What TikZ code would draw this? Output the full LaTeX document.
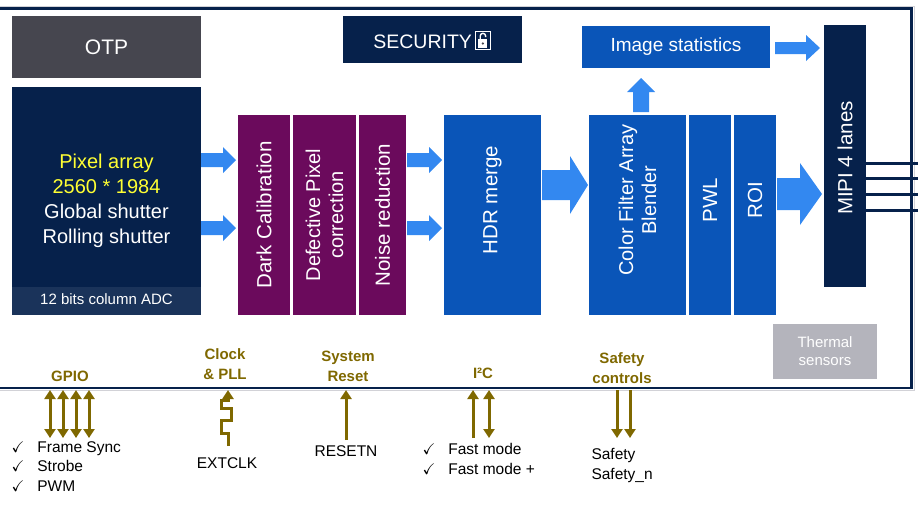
\documentclass[tikz,border=0pt]{standalone}
\usepackage{amssymb}
\usepackage{fontspec}
\setmainfont{Liberation Sans}
\usetikzlibrary{arrows.meta}
\definecolor{navy}{HTML}{06214B}
\definecolor{otpgray}{HTML}{46464F}
\definecolor{purp}{HTML}{6B0A5C}
\definecolor{blk}{HTML}{0A55B8}
\definecolor{abl}{HTML}{3388F0}
\definecolor{gold}{HTML}{7F6800}
\definecolor{thgray}{HTML}{B4B4BC}
\definecolor{yel}{HTML}{FFFF33}
\tikzset{
 x=1pt,y=-1pt,
 vtext/.style={rotate=90,text=white,font=\fontsize{20.5}{23}\selectfont,align=center},
 glabel/.style={text=gold,font=\bfseries\fontsize{15}{18}\selectfont,align=center},
 blabel/.style={font=\fontsize{15.5}{19.5}\selectfont,align=left,anchor=north west},
 sig/.style={gold,line width=3pt},
 tipb/.style={-{Triangle[length=9pt,width=11pt]}},
 tipbb/.style={{Triangle[length=9pt,width=11pt]}-{Triangle[length=9pt,width=11pt]}},
 pics/barrow/.style args={#1/#2/#3/#4}{code={\fill[abl] (0,-#2) -- (#1-#4,-#2) -- (#1-#4,-#3) -- (#1,0) -- (#1-#4,#3) -- (#1-#4,#2) -- (0,#2) -- cycle;}}
}
\newcommand{\ck}{$\checkmark$}
\begin{document}
\begin{tikzpicture}
\useasboundingbox (0,0) rectangle (918,504);
% frame
\draw[thgray!60,line width=1pt] (-5,6) -| (914.5,390.5) -- (-5,390.5);
\draw[navy,line width=2.5pt] (-5,8.5) -| (911.5,388) -- (-5,388);
% MIPI lanes
\foreach \yy in {163,178,194,210} \draw[navy,line width=3pt] (866,\yy) -- (918,\yy);
% blocks
\fill[otpgray] (12,16) rectangle (201,78);
\node[text=white,font=\fontsize{21}{24}\selectfont] (otp) at (106.5,47) {OTP};
\fill[navy] (12,87) rectangle (201,315);
\fill[white!8!navy] (12,287) rectangle (201,315);
\node[align=center,font=\fontsize{20}{25}\selectfont,text=white] (pix) at (106.5,201) {\textcolor{yel}{Pixel array}\\\textcolor{yel}{2560 * 1984}\\Global shutter\\Rolling shutter};
\node[text=white,font=\fontsize{15}{17}\selectfont] (adc) at (106.5,299) {12 bits column ADC};
\fill[navy] (343,16) rectangle (522,63);
\node[text=white,font=\fontsize{19.5}{23}\selectfont] (sec) at (432,40) {SECURITY\,\raisebox{-1pt}{\tikz[x=1pt,y=1pt]{\draw[white,line width=0.5pt] (0,0) rectangle (15,18);\fill[white] (3,1.5) rectangle (12,10);\draw[white,line width=1.4pt] (4.8,10) -- (4.8,13) arc(180:0:2.7) -- (10.2,12);\fill[otpgray] (7.5,5.5) circle (1.3);}}};
\fill[blk] (582,26) rectangle (770,68);
\node[text=white,font=\fontsize{19}{22}\selectfont] (stat) at (676,47) {Image statistics};
\fill[purp] (238,115) rectangle (290,315);
\fill[purp] (293,115) rectangle (356,315);
\fill[purp] (359,115) rectangle (406,315);
\node[vtext] (dark) at (264,215) {Dark Calibration};
\node[vtext,font=\fontsize{20}{23}\selectfont] (dpc) at (324.5,215) {Defective Pixel\\correction};
\node[vtext] (noise) at (382.5,215) {Noise reduction};
\fill[blk] (444,115) rectangle (541,315);
\node[vtext] (hdr) at (492.5,200) {HDR merge};
\fill[blk] (589,115) rectangle (686,315);
\fill[blk] (689,115) rectangle (731,315);
\fill[blk] (734,115) rectangle (776,315);
\node[vtext,font=\fontsize{20}{23}\selectfont] (cfa) at (637.5,200) {Color Filter Array\\Blender};
\node[vtext] (pwl) at (710,200) {PWL};
\node[vtext] (roi) at (755,200) {ROI};
\fill[navy] (824,25) rectangle (866,287);
\node[vtext] (mipi) at (845,158) {MIPI 4 lanes};
\fill[thgray] (773,324) rectangle (877,379);
\node[text=white,align=center,font=\fontsize{15}{18}\selectfont] (therm) at (825,351.5) {Thermal\\sensors};
% block arrows
\pic at (201,160) {barrow=35/7/13/13};
\pic at (201,228) {barrow=35/7/13/13};
\pic at (407,160) {barrow=35/7/13/13};
\pic at (407,228) {barrow=35/7/13/13};
\pic at (542,185) {barrow=46/15/29/18};
\pic at (777,194) {barrow=45/16/31/22};
\pic at (775,48) {barrow=45/6/13/14};
\pic[rotate=90] at (641,112) {barrow=34/8/14/14};
% bottom labels
\node[glabel] (gpio) at (70,376) {GPIO};
\node[glabel,font=\bfseries\fontsize{15}{20}\selectfont] (clk) at (225,364) {Clock\\\& PLL};
\node[glabel,font=\bfseries\fontsize{15}{20}\selectfont] (rst) at (348,366) {System\\Reset};
\node[glabel] (i2c) at (483,373) {I²C};
\node[glabel,font=\bfseries\fontsize{15}{20}\selectfont] (safe) at (622,368) {Safety\\controls};
\foreach \xx in {50,63,76,89} \draw[sig,tipbb] (\xx,390) -- (\xx,438);
\draw[sig,tipb] (228,446) -- (228,433) -- (221,433) -- (221,420) -- (231,420) -- (231,408) -- (221,408) -- (221,400) -- (228,400) -- (228,390);
\draw[sig,tipb] (346,440) -- (346,390);
\draw[sig,tipb] (473,438) -- (473,390);
\draw[sig,tipbb] (489,390) -- (489,438);
\draw[sig,tipb] (617,390) -- (617,438);
\draw[sig,tipb] (630,390) -- (630,438);
\node[blabel] (gl) at (8,438) {\ck\ \ \ Frame Sync\\\ck\ \ \ Strobe\\\ck\ \ \ PWM};
\node[font=\fontsize{15.5}{18}\selectfont] (ext) at (227,463) {EXTCLK};
\node[font=\fontsize{15.5}{18}\selectfont] (rn) at (346,451) {RESETN};
\node[blabel] (il) at (419,440) {\ck\ \ \ Fast mode\\\ck\ \ \ Fast mode +};
\node[blabel] (sl) at (588,445) {Safety\\Safety\_n};
\end{tikzpicture}
\end{document}
